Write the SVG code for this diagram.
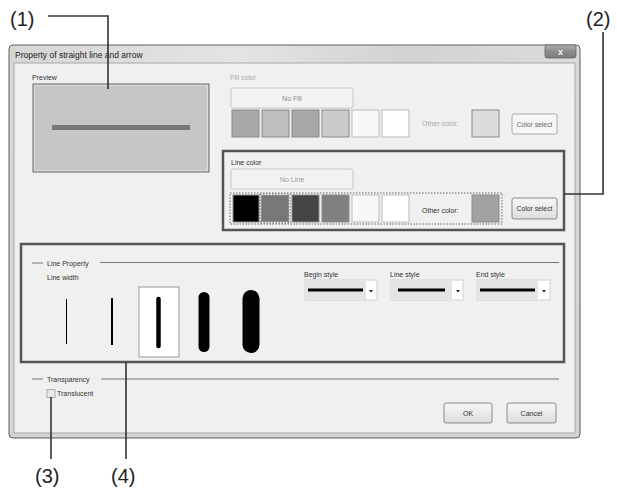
<svg xmlns="http://www.w3.org/2000/svg" width="617" height="495" viewBox="0 0 617 495">
<defs>
<linearGradient id="frameG" x1="0" y1="0" x2="0" y2="1">
<stop offset="0" stop-color="#e6e6e6"/><stop offset="0.05" stop-color="#d8d8d8"/><stop offset="1" stop-color="#d4d4d4"/>
</linearGradient>
<linearGradient id="btnG" x1="0" y1="0" x2="0" y2="1">
<stop offset="0" stop-color="#f6f6f6"/><stop offset="0.5" stop-color="#ebebeb"/><stop offset="1" stop-color="#dcdcdc"/>
</linearGradient>
<linearGradient id="closeG" x1="0" y1="0" x2="0" y2="1">
<stop offset="0" stop-color="#b0b0b0"/><stop offset="0.5" stop-color="#8c8c8c"/><stop offset="1" stop-color="#7a7a7a"/>
</linearGradient>
<linearGradient id="titleG" x1="0" y1="0" x2="1" y2="0">
<stop offset="0" stop-color="#d6d6d6"/><stop offset="0.4" stop-color="#e4e4e4"/><stop offset="0.7" stop-color="#d2d2d2"/><stop offset="1" stop-color="#dcdcdc"/>
</linearGradient>
</defs>
<style>
text{font-family:"Liberation Sans",Arial,sans-serif;}
.t{font-size:7px;fill:#333;}
.dis{font-size:7px;fill:#aaa;}
.mid{text-anchor:middle;}
.call{font-size:20px;fill:#222;}
.sw{stroke:#8a8a8a;stroke-width:1;}
.btn{fill:url(#btnG);stroke:#8a8a8a;stroke-width:1;}
.flat{fill:#f3f3f3;stroke:#c8c8c8;stroke-width:1;}
.hl{fill:none;stroke:#555;stroke-width:2.5;}
.dot{fill:none;stroke:#666;stroke-width:1;stroke-dasharray:1.5 1.5;}
.lead{fill:none;stroke:#333;stroke-width:1.6;}
.dd{fill:#fff;stroke:#d0d0d0;stroke-width:1;}
.ddi{fill:#e4e4e4;}
.rule{stroke:#777;stroke-width:1;}
</style>

<g id="window">
<rect x="9" y="45" width="571" height="393" rx="4" fill="url(#frameG)" stroke="#5a5a5a" stroke-width="1"/>
<rect x="10" y="46" width="569" height="17" rx="3" fill="url(#titleG)"/>
<text x="15" y="58" style="font-size:8.5px;fill:#222;">Property of straight line and arrow</text>
<rect x="545" y="45" width="31" height="13" rx="2" fill="url(#closeG)" stroke="#666" stroke-width="0.8"/>
<text x="560.5" y="54.5" class="mid" style="font-size:9px;font-weight:bold;fill:#f4f4f4;">x</text>
<rect x="14" y="63" width="561" height="370" fill="#f0f0f0" stroke="#a8a8a8" stroke-width="1"/>
</g>

<g id="preview">
<text x="32" y="79.5" class="t">Preview</text>
<rect x="33" y="84" width="176" height="88" fill="#c6c6c6" stroke="#6a6a6a" stroke-width="1"/>
<rect x="34.5" y="85.5" width="173" height="85" fill="none" stroke="#dcdcdc" stroke-width="1"/>
<rect x="52" y="125" width="138" height="5" fill="#777"/>
</g>

<g id="fill-color">
<text x="230" y="79.5" class="dis">Fill color</text>
<rect x="231" y="88" width="122" height="20" rx="2" class="flat"/>
<text x="292" y="100.5" class="mid" style="font-size:7px;fill:#888;">No Fill</text>
<rect x="232" y="110" width="27" height="27" fill="#a8a8a8" class="sw"/>
<rect x="262" y="110" width="27" height="27" fill="#bdbdbd" class="sw"/>
<rect x="292" y="110" width="27" height="27" fill="#a8a8a8" class="sw"/>
<rect x="322" y="110" width="27" height="27" fill="#cbcbcb" class="sw"/>
<rect x="352" y="110" width="27" height="27" fill="#f8f8f8" stroke="#bbb" stroke-width="1"/>
<rect x="382" y="110" width="27" height="27" fill="#ffffff" stroke="#bbb" stroke-width="1"/>
<text x="422" y="126" class="dis">Other color:</text>
<rect x="472" y="110" width="27" height="27" fill="#dcdcdc" class="sw"/>
<rect x="512" y="114" width="45" height="20" rx="2" fill="#f6f6f6" stroke="#aaa" stroke-width="1"/>
<text x="534.5" y="126.5" class="mid" style="font-size:6.8px;fill:#666;">Color select</text>
</g>

<g id="line-color">
<rect x="223" y="151" width="341" height="79" class="hl"/>
<text x="231" y="165" class="t">Line color</text>
<rect x="231" y="169" width="122" height="20" rx="2" class="flat"/>
<text x="292" y="181.5" class="mid" style="font-size:7px;fill:#999;">No Line</text>
<rect x="230" y="193" width="272" height="31" class="dot"/>
<rect x="233" y="195" width="26" height="27" fill="#000" class="sw"/>
<rect x="260" y="194" width="30" height="29" class="dot"/>
<rect x="261.5" y="195.5" width="27" height="26" fill="#777" class="sw"/>
<rect x="292" y="195" width="27" height="27" fill="#444" class="sw"/>
<rect x="322" y="195" width="27" height="27" fill="#808080" class="sw"/>
<rect x="352" y="195" width="27" height="27" fill="#f8f8f8" stroke="#bbb" stroke-width="1"/>
<rect x="382" y="195" width="27" height="27" fill="#ffffff" stroke="#bbb" stroke-width="1"/>
<text x="422" y="213" class="t">Other color:</text>
<rect x="472" y="195" width="27" height="27" fill="#a2a2a2" class="sw"/>
<rect x="512" y="198" width="45" height="21" rx="2" class="btn"/>
<text x="534.5" y="211" class="mid" style="font-size:6.8px;fill:#333;">Color select</text>
</g>

<g id="line-property">
<rect x="21" y="244" width="543" height="118" class="hl"/>
<line x1="32" y1="263" x2="43" y2="263" class="rule"/>
<text x="47" y="265.5" class="t">Line Property</text>
<line x1="100" y1="262.5" x2="559" y2="262.5" class="rule"/>
<text x="47" y="280" class="t">Line width</text>
<line x1="66.5" y1="299" x2="66.5" y2="344" stroke="#000" stroke-width="1"/>
<line x1="112" y1="298" x2="112" y2="345" stroke="#000" stroke-width="2"/>
<rect x="139" y="287" width="40" height="70" fill="#fff" stroke="#999" stroke-width="1"/>
<line x1="158.5" y1="299" x2="158.5" y2="346" stroke="#000" stroke-width="4.5" stroke-linecap="round"/>
<line x1="204" y1="297.5" x2="204" y2="346.5" stroke="#000" stroke-width="11" stroke-linecap="round"/>
<line x1="251" y1="298.5" x2="251" y2="344.5" stroke="#000" stroke-width="17" stroke-linecap="round"/>
<text x="304" y="276.5" class="t">Begin style</text>
<rect x="305" y="280" width="72" height="20" class="dd"/>
<rect x="306" y="281" width="60" height="18" class="ddi"/>
<line x1="308" y1="290" x2="363" y2="290" stroke="#000" stroke-width="3"/>
<path d="M369 290 L373 290 L371 292.5 Z" fill="#222"/>
<text x="390" y="276.5" class="t">Line style</text>
<rect x="391" y="280" width="72" height="20" class="dd"/>
<rect x="392" y="281" width="60" height="18" class="ddi"/>
<line x1="398" y1="290" x2="445" y2="290" stroke="#000" stroke-width="3"/>
<path d="M456 290 L460 290 L458 292.5 Z" fill="#222"/>
<text x="476" y="276.5" class="t">End style</text>
<rect x="477" y="280" width="73" height="20" class="dd"/>
<rect x="478" y="281" width="60" height="18" class="ddi"/>
<line x1="480" y1="290" x2="535" y2="290" stroke="#000" stroke-width="3"/>
<path d="M542 290 L546 290 L544 292.5 Z" fill="#222"/>
</g>

<g id="transparency">
<line x1="32" y1="379" x2="43" y2="379" class="rule"/>
<text x="47" y="381.5" class="t">Transparency</text>
<line x1="101" y1="379" x2="559" y2="379" class="rule"/>
<rect x="47" y="389.5" width="8" height="8" fill="#e8e8e8" stroke="#aaa" stroke-width="1"/>
<text x="57" y="396" class="t">Translucent</text>
</g>

<g id="buttons">
<rect x="444" y="403" width="48" height="20" rx="2" class="btn"/>
<text x="468" y="415.5" class="mid t">OK</text>
<rect x="507" y="403" width="49" height="20" rx="2" class="btn"/>
<text x="531.5" y="415.5" class="mid t">Cancel</text>
</g>

<g id="connectors">
<polyline points="48,16 108,16 108,89" class="lead"/>
<polyline points="603,32 603,194 564,194" class="lead"/>
<line x1="51" y1="397" x2="51" y2="459" class="lead"/>
<line x1="126" y1="362" x2="126" y2="459" class="lead"/>
</g>

<g id="callouts">
<text x="10" y="26" class="call">(1)</text>
<text x="586" y="26" class="call">(2)</text>
<text x="35" y="483" class="call">(3)</text>
<text x="111" y="483" class="call">(4)</text>
</g>
</svg>
